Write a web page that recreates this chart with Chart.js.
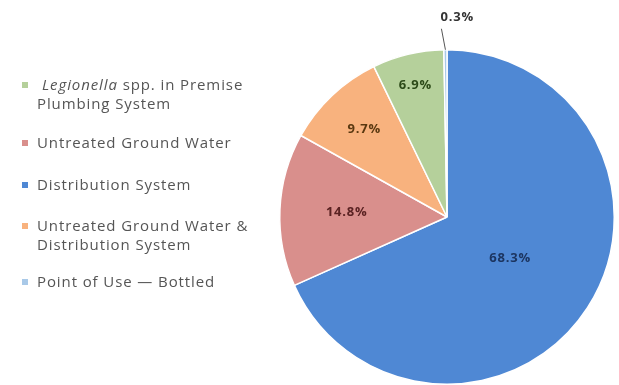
<!DOCTYPE html>
<html>
<head>
<meta charset="utf-8">
<script src="https://cdn.jsdelivr.net/npm/chart.js@4.4.1/dist/chart.umd.min.js"></script>
<style>
    html, body { margin: 0; padding: 0; background: #fff; }
    #wrap { position: relative; width: 619px; height: 385px; }
    #pie { position: absolute; left: 0; top: 0; }
    #legend {
        position: absolute; left: 0; top: 0;
        font-family: "Open Sans", sans-serif; font-size: 15px; color: #555;
        letter-spacing: 0.9px;
    }
    .item { position: absolute; left: 22px; white-space: nowrap; line-height: 19px; }
    .item .box { position: absolute; left: 0; top: 7px; width: 6px; height: 6px; }
    .item .txt { margin-left: 15px; }
    .item .txt.indent { padding-left: 5px; }
</style>
</head>
<body>
<div id="wrap">
    <canvas id="pie" width="619" height="385"></canvas>
    <div id="legend"></div>
</div>
<script>
// slices, clockwise from 12 o'clock
const categories = [
    'Distribution System',
    'Untreated Ground Water',
    'Untreated Ground Water & Distribution System',
    'Legionella spp. in Premise Plumbing System',
    'Point of Use \u2014 Bottled'
];
const shares = [68.3, 14.8, 9.7, 6.9, 0.3];

// legend shows them in another order, some on two lines
const legendOrder = [3, 1, 0, 2, 4];
const legendLines = [
    ['Distribution System'],
    ['Untreated Ground Water'],
    ['Untreated Ground Water &', 'Distribution System'],
    [' Legionella spp. in Premise', 'Plumbing System'],
    ['Point of Use \u2014 Bottled']
];
const legendTop = [85, 143, 185, 226, 282];

const sliceColors = ['#4f88d4', '#d98f8c', '#f8b27e', '#b5d09b', '#a9c9e8'];
const labelColors = ['#1c3560', '#5a2222', '#5a3810', '#2c4a18', '#333333'];
const labelRadius = [0.45, 0.6, 0.72, 0.81, null];

// percentage labels drawn onto the arcs
const pctLabels = {
    id: 'pctLabels',
    afterDatasetsDraw(chart) {
        const ctx = chart.ctx;
        const arcs = chart.getDatasetMeta(0).data;
        ctx.save();
        ctx.font = 'bold 13px "Open Sans", sans-serif';
        ctx.letterSpacing = '0.8px';
        ctx.textAlign = 'center';
        ctx.textBaseline = 'middle';
        arcs.forEach((arc, i) => {
            const mid = (arc.startAngle + arc.endAngle) / 2;
            const txt = shares[i].toFixed(1) + '%';
            ctx.fillStyle = labelColors[i];
            if (labelRadius[i] !== null) {
                const r = arc.outerRadius * labelRadius[i];
                ctx.fillText(txt, arc.x + Math.cos(mid) * r, arc.y + Math.sin(mid) * r);
            } else {
                // tiny slice: leader line to a label above the pie
                const x0 = arc.x + Math.cos(mid) * arc.outerRadius;
                const y0 = arc.y + Math.sin(mid) * arc.outerRadius;
                ctx.strokeStyle = '#555';
                ctx.lineWidth = 1;
                ctx.beginPath();
                ctx.moveTo(x0, y0);
                ctx.lineTo(x0 - 4, y0 - 21);
                ctx.stroke();
                ctx.fillStyle = '#333';
                ctx.textAlign = 'left';
                ctx.fillText(txt, x0 - 5, y0 - 32);
            }
        });
        ctx.restore();
    }
};

new Chart(document.getElementById('pie'), {
    type: 'pie',
    data: {
        labels: categories,
        datasets: [{
            data: shares,
            backgroundColor: sliceColors,
            borderColor: '#fff',
            borderWidth: 1.5
        }]
    },
    options: {
        responsive: false,
        animation: false,
        layout: { padding: { left: 279, top: 49, right: 4, bottom: 0 } },
        plugins: {
            legend: { display: false },
            tooltip: { enabled: false }
        }
    },
    plugins: [pctLabels]
});

// html legend (two-line entries)
const legend = document.getElementById('legend');
legendOrder.forEach((idx, n) => {
    const item = document.createElement('div');
    item.className = 'item';
    item.style.top = (legendTop[n] - 10) + 'px';
    const box = document.createElement('span');
    box.className = 'box';
    box.style.background = sliceColors[idx];
    item.appendChild(box);
    legendLines[idx].forEach((line) => {
        const t = document.createElement('div');
        t.className = line.startsWith(' ') ? 'txt indent' : 'txt';
        t.innerHTML = line.trim().replace('Legionella', '<i>Legionella</i>');
        item.appendChild(t);
    });
    legend.appendChild(item);
});
</script>
</body>
</html>
